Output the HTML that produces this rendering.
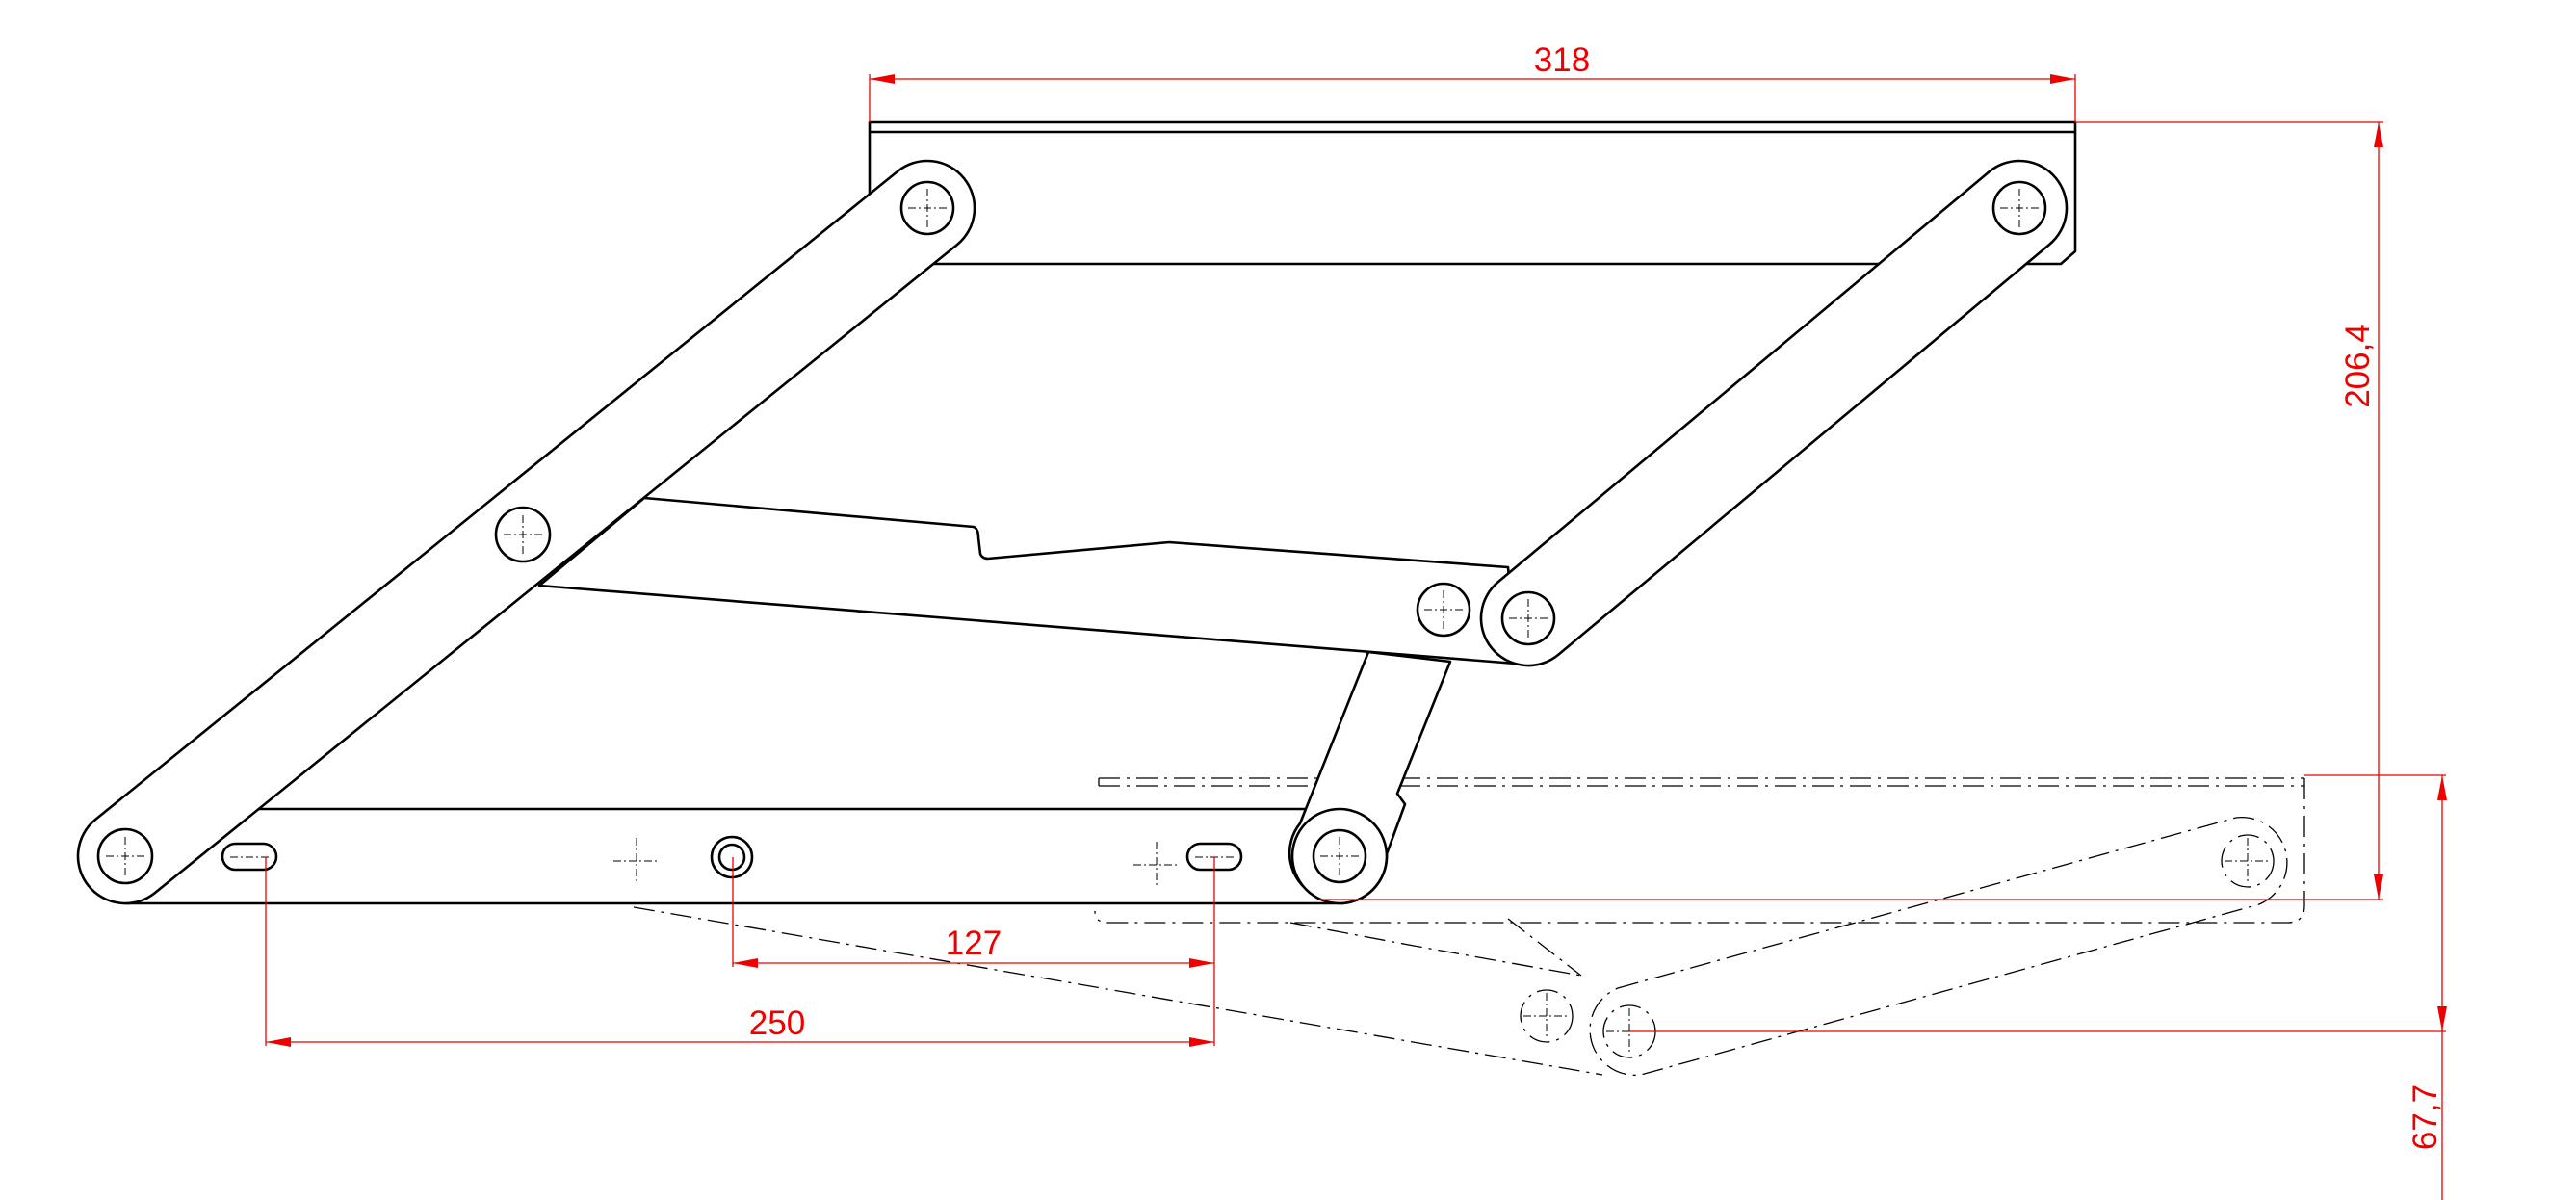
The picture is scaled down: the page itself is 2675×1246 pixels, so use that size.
<!DOCTYPE html>
<html><head><style>html,body{margin:0;padding:0;background:#fff}svg{display:block}</style></head><body>
<svg width="2675" height="1246" viewBox="0 0 2675 1246" xmlns="http://www.w3.org/2000/svg">
<g fill="none" stroke="#000" stroke-width="1.3" stroke-dasharray="22 7 3 7">
<path d="M1141 808 H2393 M1141 816 H2393 M1141 808 V816"/>
<path d="M2393 808 V941 Q2393 958 2375 958 H1150 Q1137 958 1137 946"/>
<path d="M658 942 L1664 1116"/>
<path d="M1340 958 L1468 982 L1642 1013"/>
<path d="M1566 954 L1642 1013"/>
<path d="M1680 1026 L2322 849 A47 47 0 0 1 2346 939 L1704 1116 A47 47 0 0 1 1680 1026 Z"/>
<circle cx="1692" cy="1071" r="27"/>
<circle cx="1606" cy="1055" r="27"/>
<circle cx="2334" cy="894" r="27"/>
<circle cx="661" cy="894" r="28"/>
<circle cx="1201" cy="898" r="28"/>
</g>
<g fill="#fff" stroke="#000" stroke-width="2.6" stroke-linejoin="round">
<path d="M903 203 V127 H2155 V261 L2140 274 H966" fill="none"/>
<path d="M903 137 H2155" fill="none"/>
<path d="M669 517 L1011 547 Q1016 549 1016 558 L1018 575 Q1020 580 1026 580 L1214 563 L1566 589 L1574 689 L560 608 Z"/>
<path d="M130 840 H1391 A49 49 0 0 1 1391 938 H130 Z"/>
<path d="M1421 677 L1506 687 L1451 824 L1459 835 L1434 903 A49 49 0 1 1 1350 855 Z"/>
<circle cx="1391" cy="889" r="49"/>
<path d="M932 178 L99 851 A49 49 0 0 0 161 927 L994 254 A49 49 0 0 0 932 178 Z"/>
<path d="M2066 178 L1556 604 A49 49 0 0 0 1618 680 L2128 254 A49 49 0 0 0 2066 178 Z"/>
<circle cx="963" cy="216" r="27"/>
<circle cx="130" cy="889" r="28"/>
<circle cx="543" cy="555" r="28"/>
<circle cx="1499" cy="633" r="27"/>
<circle cx="1587" cy="642" r="27"/>
<circle cx="2097" cy="216" r="27"/>
<circle cx="1391" cy="889" r="27"/>
<circle cx="760" cy="890" r="21"/>
<circle cx="760" cy="890" r="13"/>
<rect x="231" y="876" width="56" height="27" rx="13.5"/>
<rect x="1233" y="876" width="56" height="27" rx="13.5"/>
</g>
<g stroke="#000" stroke-width="1" stroke-dasharray="8 3 2 3">
<path d="M943 216h40M963 196v40 M2077 216h40M2097 196v40 M523 555h40M543 535v40 M1479 633h40M1499 613v40 M1567 642h40M1587 622v40 M1371 889h40M1391 869v40 M110 889h40M130 869v40 M239 890h40 M1241 890h40 M637 894h48M661 870v48 M1177 898h48M1201 874v48 M1668 1071h48M1692 1047v48 M1582 1055h48M1606 1031v48 M2310 894h48M2334 870v48"/>
</g>
<g stroke="#e00" stroke-width="1.3" fill="none">
<path d="M903 77V127 M2155 77V127 M903 82H2155"/>
<path d="M2155 127H2475 M2470 127V934 M1370 934H2475"/>
<path d="M2393 805H2540 M1692 1071H2540 M2536 805V1246"/>
<path d="M276 890V1086 M1261 890V1086 M276 1082H1261 M761 890V1004 M761 1000H1261"/>
</g>
<g fill="#e00">
<path d="M903 82l26-5v10z M2155 82l-26-5v10z"/>
<path d="M2470 127l-5 26h10z M2470 934l-5-26h10z"/>
<path d="M2536 805l-5 26h10z M2536 1071l-5-26h10z"/>
<path d="M276 1082l26-5v10z M1261 1082l-26-5v10z M761 1000l26-5v10z M1261 1000l-26-5v10z"/>
</g>
<g fill="#e00" font-family="Liberation Sans, sans-serif" font-size="35" text-anchor="middle">
<text x="1622" y="74">318</text>
<text x="807" y="1074">250</text>
<text x="1011" y="991">127</text>
<text transform="translate(2460 380) rotate(-90)">206,4</text>
<text transform="translate(2530 1160) rotate(-90)">67,7</text>
</g>
</svg>
</body></html>
